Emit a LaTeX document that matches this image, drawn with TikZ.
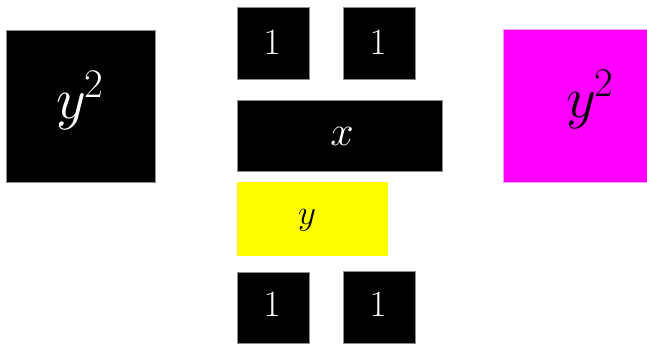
\documentclass[tikz,border=0pt]{standalone}
\usepackage{fix-cm}
\definecolor{pmag}{RGB}{255,0,255}
\definecolor{pyel}{RGB}{255,255,0}
\definecolor{pmagedge}{RGB}{250,150,250}
\begin{document}
\begin{tikzpicture}[x=1pt,y=-1pt,
  tile/.style={draw=#1, line width=0.6pt, fill=black, anchor=north west, inner sep=0pt, outer sep=0pt},
  tile/.default={black!45},
  lbl/.style={inner sep=0pt, anchor=center, text=white},
]
\useasboundingbox (0,0) rectangle (647,343);
% tiles
\node[tile, minimum width=149pt, minimum height=152pt] (ysqL) at (6,30) {};
\node[tile, minimum width=72pt, minimum height=72pt] (oneA) at (237,7) {};
\node[tile, minimum width=72pt, minimum height=72pt] (oneB) at (343,7) {};
\node[tile, minimum width=205pt, minimum height=71pt] (xbar) at (237,100) {};
\node[tile=pyel, fill=pyel, minimum width=150pt, minimum height=73pt] (ybar) at (237,182) {};
\node[tile, minimum width=72pt, minimum height=71pt] (oneC) at (237,272) {};
\node[tile, minimum width=72pt, minimum height=72pt] (oneD) at (343,271) {};
\node[tile=pmagedge, fill=pmag, minimum width=144pt, minimum height=153pt] (ysqR) at (503,29) {};
% labels
\node[lbl, font=\fontsize{58}{58}\selectfont] (tL) at (80,101) {$y^{\mkern-1mu2}$};
\node[lbl, text=black, font=\fontsize{58}{58}\selectfont] (tR) at (590,100) {$y^{\mkern-1mu2}$};
\node[lbl, font=\fontsize{37}{37}\selectfont] (tA) at (272,43) {$1$};
\node[lbl, font=\fontsize{37}{37}\selectfont] (tB) at (378,43) {$1$};
\node[lbl, font=\fontsize{42}{42}\selectfont] (tx) at (342,136) {$x$};
\node[lbl, text=black, font=\fontsize{35}{35}\selectfont] (ty) at (307,220) {$y$};
\node[lbl, font=\fontsize{37}{37}\selectfont] (tC) at (272,305) {$1$};
\node[lbl, font=\fontsize{37}{37}\selectfont] (tD) at (378,305) {$1$};
\end{tikzpicture}
\end{document}
